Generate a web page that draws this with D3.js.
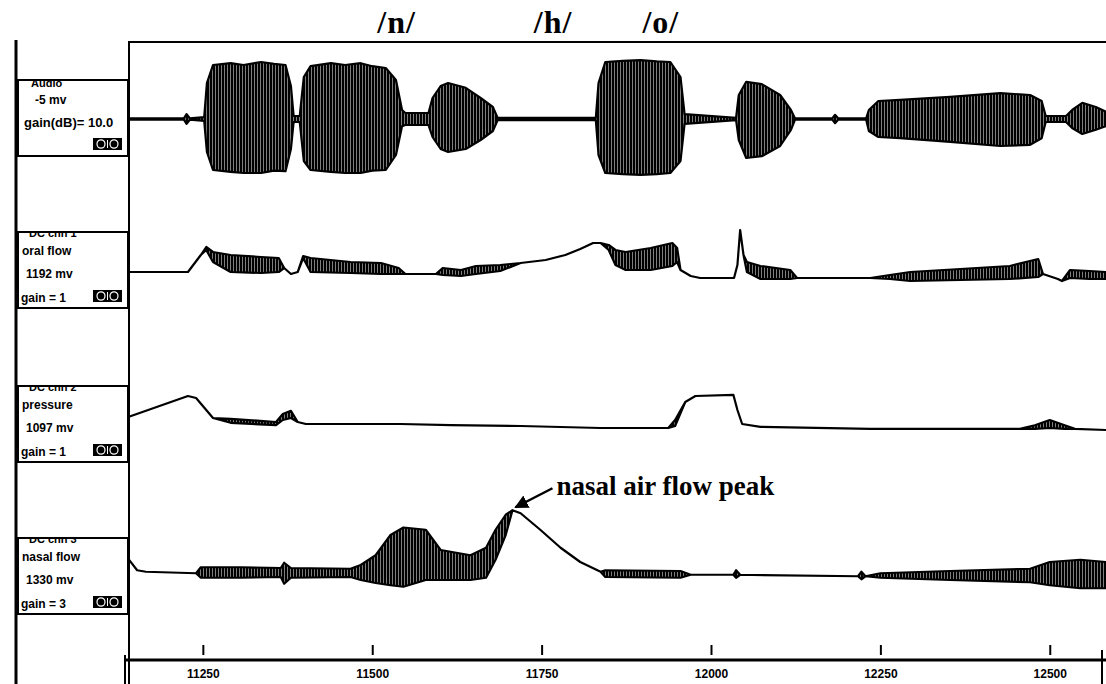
<!DOCTYPE html>
<html>
<head>
<meta charset="utf-8">
<script src="https://cdn.jsdelivr.net/npm/d3@7"></script>
<style>
  body { margin: 0; background: #fff; }
  svg { display: block; }
</style>
</head>
<body>
<div id="chart"></div>
<script>
// time axis (ms) and tick labels
const timeTicks = [11250, 11500, 11750, 12000, 12250, 12500];

// phoneme labels at the top, positioned in time
const phonemes = [["/n/", 11536], ["/h/", 11767], ["/o/", 11926]];

// each trace: [time ms, upper envelope, lower envelope] (equal where the trace is a single line)
const audio = [
  [11141, 0.01, -0.01], [11222, 0.01, -0.01], [11226, 0.08, -0.08], [11231, 0.01, -0.01],
  [11252, 0.03, -0.03], [11256, 0.6, -0.55], [11265, 0.9, -0.85], [11291, 0.93, -0.88],
  [11310, 0.9, -0.9], [11336, 0.95, -0.9], [11355, 0.92, -0.86], [11372, 0.9, -0.87],
  [11380, 0.55, -0.5], [11384, 0.05, -0.05],
  [11393, 0.05, -0.05], [11399, 0.7, -0.7], [11409, 0.88, -0.85], [11439, 0.93, -0.88],
  [11460, 0.9, -0.9], [11483, 0.93, -0.9], [11500, 0.88, -0.86], [11520, 0.85, -0.85],
  [11535, 0.65, -0.6], [11544, 0.15, -0.12],
  [11549, 0.1, -0.1], [11583, 0.1, -0.1], [11589, 0.35, -0.3], [11601, 0.55, -0.5],
  [11612, 0.6, -0.55], [11638, 0.52, -0.5], [11660, 0.35, -0.35], [11678, 0.2, -0.2],
  [11685, 0.02, -0.02], [11830, 0.02, -0.02], [11834, 0.6, -0.6], [11844, 0.95, -0.9],
  [11870, 0.97, -0.92], [11896, 0.98, -0.93], [11920, 0.96, -0.92], [11940, 0.95, -0.9],
  [11955, 0.7, -0.7], [11961, 0.08, -0.08],
  [12037, 0.02, -0.02], [12041, 0.4, -0.35], [12052, 0.62, -0.65], [12075, 0.58, -0.62],
  [12102, 0.4, -0.45], [12118, 0.15, -0.18], [12124, 0.01, -0.01], [12179, 0.01, -0.01],
  [12183, 0.07, -0.07], [12188, 0.01, -0.01], [12229, 0.01, -0.01], [12233, 0.15, -0.2],
  [12247, 0.3, -0.3], [12279, 0.32, -0.32], [12353, 0.37, -0.38], [12427, 0.43, -0.45],
  [12471, 0.4, -0.43], [12488, 0.3, -0.32], [12494, 0.05, -0.05], [12524, 0.05, -0.05],
  [12533, 0.15, -0.15], [12548, 0.27, -0.25], [12568, 0.2, -0.18], [12583, 0.12, -0.12]
];

const oralFlow = [
  [11141, 0.16, 0.16], [11228, 0.16, 0.16], [11247, 0.5, 0.5], [11255, 0.66, 0.6],
  [11265, 0.56, 0.36], [11291, 0.5, 0.16], [11336, 0.46, 0.14], [11362, 0.44, 0.16],
  [11370, 0.24, 0.24], [11380, 0.12, 0.12], [11390, 0.16, 0.16], [11398, 0.48, 0.44],
  [11409, 0.44, 0.16], [11468, 0.36, 0.14], [11513, 0.34, 0.12], [11539, 0.24, 0.12],
  [11549, 0.12, 0.12], [11594, 0.12, 0.12], [11604, 0.24, 0.1], [11631, 0.2, 0.08],
  [11653, 0.28, 0.12], [11689, 0.3, 0.18], [11719, 0.34, 0.34], [11756, 0.4, 0.4],
  [11785, 0.5, 0.5], [11807, 0.62, 0.62], [11826, 0.74, 0.74], [11837, 0.74, 0.74],
  [11849, 0.7, 0.6], [11859, 0.6, 0.3], [11874, 0.56, 0.2], [11911, 0.64, 0.2],
  [11943, 0.74, 0.28], [11950, 0.64, 0.36], [11955, 0.2, 0.2], [11970, 0.08, 0.08],
  [11984, 0.04, 0.04], [12034, 0.04, 0.04], [12039, 0.3, 0.3], [12043, 1.0, 1.0],
  [12048, 0.5, 0.5], [12053, 0.36, 0.16], [12073, 0.28, 0.02], [12117, 0.2, 0.02],
  [12127, 0.04, 0.04], [12235, 0.04, 0.04], [12264, 0.1, 0.02], [12294, 0.16, -0.02],
  [12368, 0.22, 0.0], [12441, 0.28, 0.02], [12483, 0.42, 0.06], [12490, 0.12, 0.12],
  [12512, 0.02, 0.02], [12518, -0.02, -0.02], [12530, 0.2, 0.04], [12559, 0.18, 0.02],
  [12583, 0.16, 0.02]
];

const pressure = [
  [11141, 0.33, 0.33], [11228, 0.85, 0.85], [11240, 0.8, 0.8], [11255, 0.5, 0.5],
  [11265, 0.3, 0.3], [11291, 0.28, 0.18], [11358, 0.2, 0.12], [11368, 0.4, 0.25],
  [11380, 0.48, 0.3], [11390, 0.2, 0.2], [11402, 0.15, 0.15], [11542, 0.15, 0.15],
  [11616, 0.12, 0.12], [11719, 0.1, 0.1], [11837, 0.05, 0.05], [11937, 0.05, 0.05],
  [11947, 0.25, 0.1], [11962, 0.7, 0.7], [11977, 0.85, 0.85], [12033, 0.88, 0.88],
  [12039, 0.5, 0.5], [12046, 0.15, 0.15], [12073, 0.08, 0.08], [12235, 0.03, 0.03],
  [12456, 0.03, 0.03], [12478, 0.12, 0.03], [12500, 0.25, 0.05], [12522, 0.12, 0.03],
  [12537, 0.03, 0.03], [12583, 0.0, 0.0]
];

const nasalFlow = [
  [11141, 0.27, 0.27], [11153, 0.13, 0.13], [11166, 0.11, 0.11], [11240, 0.09, 0.09],
  [11247, 0.17, 0.03], [11306, 0.17, 0.03], [11365, 0.16, 0.04], [11370, 0.23, -0.05],
  [11380, 0.16, 0.03], [11468, 0.15, 0.04], [11483, 0.2, 0.0], [11505, 0.33, -0.04],
  [11527, 0.6, -0.07], [11546, 0.7, -0.09], [11579, 0.67, 0.0], [11601, 0.4, 0.0],
  [11645, 0.33, 0.0], [11668, 0.43, 0.03], [11682, 0.67, 0.27], [11697, 0.87, 0.6],
  [11707, 0.93, 0.93], [11719, 0.89, 0.89], [11748, 0.67, 0.67], [11778, 0.43, 0.43],
  [11807, 0.24, 0.24], [11837, 0.11, 0.11], [11844, 0.13, 0.04], [11955, 0.12, 0.03],
  [11970, 0.07, 0.07], [12033, 0.07, 0.07], [12037, 0.13, 0.03], [12043, 0.07, 0.07],
  [12217, 0.05, 0.05], [12222, 0.11, 0.01], [12228, 0.05, 0.05], [12250, 0.09, 0.03],
  [12353, 0.12, 0.0], [12471, 0.15, -0.03], [12500, 0.24, -0.07], [12545, 0.27, -0.11],
  [12583, 0.24, -0.11]
];

// channel boxes on the left
const channelNames = ["Audio", "DC chn 1", "DC chn 2", "DC chn 3"];
const channelLines = [
  ["-5      mv", "gain(dB)= 10.0"],
  ["oral flow", "1192   mv", "gain = 1"],
  ["pressure", "1097   mv", "gain = 1"],
  ["nasal flow", "1330   mv", "gain = 3"]
];

const peakNote = ["nasal air flow peak", 11707];

const width = 1106, height = 684;
const plot = {left: 129, right: 1106, top: 42, axis: 660};

const svg = d3.select("#chart")
  .append("svg")
  .attr("width", width)
  .attr("height", height);

const defs = svg.append("defs");
defs.append("clipPath").attr("id", "plotClip")
  .append("rect")
  .attr("x", plot.left + 1).attr("y", plot.top + 2)
  .attr("width", plot.right - plot.left).attr("height", plot.axis - plot.top - 4);

// vertical striping for voiced oscillation bands
const pat = defs.append("pattern")
  .attr("id", "stripes")
  .attr("patternUnits", "userSpaceOnUse")
  .attr("width", 3).attr("height", 10);
pat.append("rect").attr("width", 2.5).attr("height", 10).attr("fill", "#000");

const x = d3.scaleLinear()
  .domain([11141, 12583])
  .range([plot.left, plot.right]);

// one vertical band per channel
const yAudio = d3.scaleLinear().domain([-1, 1]).range([179, 59]);
const yOral = d3.scaleLinear().domain([0, 1]).range([280, 230]);
const yPress = d3.scaleLinear().domain([0, 1]).range([430, 390]);
const yNasal = d3.scaleLinear().domain([0, 1]).range([580, 505]);

const traces = [[audio, yAudio], [oralFlow, yOral], [pressure, yPress], [nasalFlow, yNasal]];

const traceG = svg.append("g").attr("clip-path", "url(#plotClip)");
traces.forEach(([data, y]) => {
  const area = d3.area()
    .x(d => x(d[0]))
    .y0(d => y(d[2]))
    .y1(d => y(d[1]))
    .curve(d3.curveLinear);
  traceG.append("path")
    .datum(data)
    .attr("d", area)
    .attr("fill", "url(#stripes)")
    .attr("stroke", "#000")
    .attr("stroke-width", 2.2)
    .attr("stroke-linejoin", "round");
});

// frame lines
svg.append("line")
  .attr("x1", 16).attr("x2", 16).attr("y1", 40).attr("y2", height)
  .attr("stroke", "#000").attr("stroke-width", 3);
svg.append("line")
  .attr("x1", plot.left).attr("x2", plot.left).attr("y1", plot.top - 1).attr("y2", height)
  .attr("stroke", "#000").attr("stroke-width", 2);
svg.append("line")
  .attr("x1", plot.left).attr("x2", plot.right).attr("y1", plot.top).attr("y2", plot.top)
  .attr("stroke", "#000").attr("stroke-width", 2);

// channel label boxes
const boxTops = [80, 232, 386, 538];
const boxH = 76;
channelNames.forEach((name, i) => {
  const top = boxTops[i];
  const g = svg.append("g");
  const cid = "boxClip" + i;
  defs.append("clipPath").attr("id", cid)
    .append("rect").attr("x", 18).attr("y", top).attr("width", 110).attr("height", boxH);

  g.append("rect")
    .attr("x", 18).attr("y", top)
    .attr("width", 110).attr("height", boxH)
    .attr("fill", "#fff").attr("stroke", "#000").attr("stroke-width", 2);

  const tg = g.append("g").attr("clip-path", `url(#${cid})`)
    .style("font-family", "'Liberation Sans', Arial, sans-serif")
    .style("font-weight", "bold")
    .style("font-size", "12px");

  const lines = channelLines[i];
  if (i === 0) {
    tg.append("text").attr("x", 31).attr("y", top + 7).style("font-size", "11px").text(name);
    tg.append("text").attr("x", 35).attr("y", top + 24).text(lines[0]);
    tg.append("text").attr("x", 24).attr("y", top + 47).style("font-size", "13px").text(lines[1]);
  } else {
    tg.append("text").attr("x", 29).attr("y", top + 5).style("font-size", "11px").text(name);
    tg.append("text").attr("x", 22).attr("y", top + 23).text(lines[0]);
    tg.append("text").attr("x", 26).attr("y", top + 46).text(lines[1]);
    tg.append("text").attr("x", 21).attr("y", top + 70).text(lines[2]);
  }

  // small scroll widget
  const wx = 93, wy = top + 58;
  g.append("rect").attr("x", wx).attr("y", wy).attr("width", 29).attr("height", 12).attr("fill", "#000");
  [wx + 8, wx + 21].forEach(cx => {
    g.append("ellipse").attr("cx", cx).attr("cy", wy + 6).attr("rx", 4).attr("ry", 4.2)
      .attr("fill", "none").attr("stroke", "#fff").attr("stroke-width", 1.2);
  });
  g.append("line").attr("x1", wx + 14.5).attr("x2", wx + 14.5).attr("y1", wy + 2).attr("y2", wy + 10)
    .attr("stroke", "#fff").attr("stroke-width", 1);
});

// time axis: ticks sit above the line, labels below
const axis = svg.append("g")
  .attr("transform", `translate(0,${plot.axis})`)
  .call(d3.axisBottom(x).tickValues(timeTicks).tickFormat(d3.format("d")).tickSizeOuter(0));
axis.select(".domain").remove();
axis.selectAll(".tick line")
  .attr("y1", -5).attr("y2", -15)
  .attr("stroke", "#000").attr("stroke-width", 2);
axis.selectAll(".tick text")
  .attr("y", 9)
  .style("font-family", "'Liberation Sans', Arial, sans-serif")
  .style("font-weight", "bold")
  .style("font-size", "12px")
  .attr("fill", "#000");
svg.append("line")
  .attr("x1", 125).attr("x2", plot.right).attr("y1", plot.axis).attr("y2", plot.axis)
  .attr("stroke", "#000").attr("stroke-width", 3);
svg.append("line")
  .attr("x1", 125).attr("x2", 125).attr("y1", plot.axis - 5).attr("y2", height)
  .attr("stroke", "#000").attr("stroke-width", 2);
svg.append("line")
  .attr("x1", 1102).attr("x2", 1102).attr("y1", plot.axis - 10).attr("y2", height)
  .attr("stroke", "#000").attr("stroke-width", 2);

// phoneme labels
svg.selectAll(".phon")
  .data(phonemes)
  .enter()
  .append("text")
  .attr("class", "phon")
  .attr("x", d => x(d[1]))
  .attr("y", 33)
  .attr("text-anchor", "middle")
  .style("font-family", "'Liberation Serif', 'Times New Roman', serif")
  .style("font-weight", "bold")
  .style("font-size", "32px")
  .style("letter-spacing", "1px")
  .text(d => d[0]);

// annotation with arrow to the nasal peak
const peak = nasalFlow.find(d => d[0] === peakNote[1]);
const px = x(peak[0]), py = yNasal(peak[1]);
svg.append("text")
  .attr("x", px + 44)
  .attr("y", py - 15)
  .style("font-family", "'Liberation Serif', 'Times New Roman', serif")
  .style("font-weight", "bold")
  .style("font-size", "27px")
  .text(peakNote[0]);
defs.append("marker")
  .attr("id", "arrow")
  .attr("viewBox", "0 0 10 10")
  .attr("refX", 9).attr("refY", 5)
  .attr("markerWidth", 5.5).attr("markerHeight", 5.5)
  .attr("orient", "auto")
  .append("path").attr("d", "M0,0 L10,5 L0,10 Z").attr("fill", "#000");
svg.append("line")
  .attr("x1", px + 40).attr("y1", py - 22)
  .attr("x2", px + 3).attr("y2", py - 3)
  .attr("stroke", "#000").attr("stroke-width", 2.5)
  .attr("marker-end", "url(#arrow)");
</script>
</body>
</html>
